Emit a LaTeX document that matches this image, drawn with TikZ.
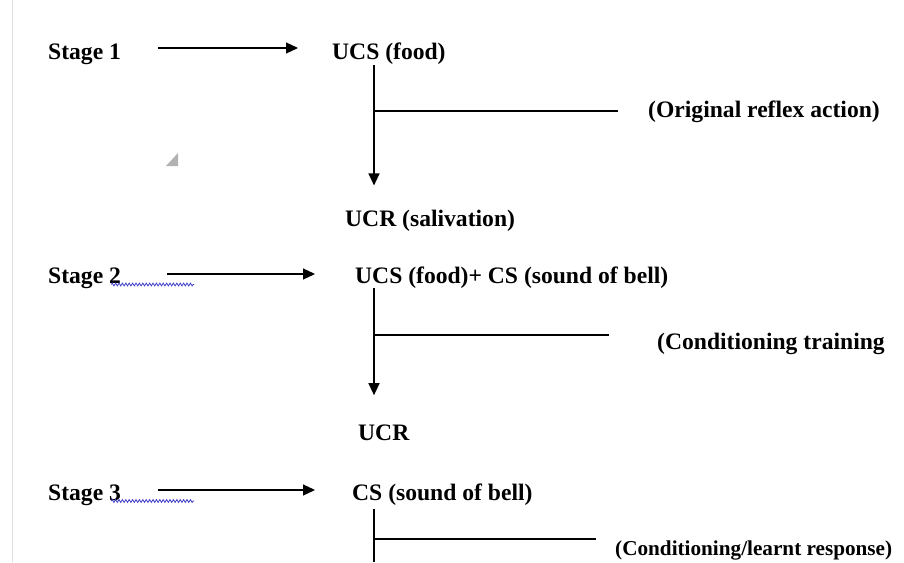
\documentclass[tikz,border=0pt]{standalone}
\usepackage{fontspec}
\setmainfont{Liberation Serif}
\usetikzlibrary{arrows.meta,calc,decorations.pathmorphing}
\begin{document}
\begin{tikzpicture}[x=1pt,y=-1pt,
  lbl/.style={font=\bfseries\fontsize{23.6}{28}\selectfont, inner sep=0pt, anchor=base west},
  smalllbl/.style={lbl, font=\bfseries\fontsize{21.2}{25}\selectfont},
  conn/.style={line width=1.2pt, -{Triangle[length=12pt,width=11pt]}},
  branch/.style={line width=1.2pt},
  plain/.style={line width=1.2pt},
  squig/.style={draw={rgb,255:red,60;green,60;blue,200}, line width=0.8pt, decorate, decoration={snake, amplitude=1.4pt, segment length=3.4pt}}]
\useasboundingbox (0,0) rectangle (904,562);
\fill[white] (0,0) rectangle (904,562);
\draw[black!12, line width=1pt] (12,0) -- (12,562);
\fill[black!30] (178,153) -- (178,166) -- (166,166) -- cycle;

% Stage 1
\node[lbl] (s1) at (48,59) {Stage 1};
\node[lbl] (ucs1) at (332,59) {UCS (food)};
\node[lbl] (ucr1) at (345,226) {UCR (salivation)};
\node[lbl] (lab1) at (648,117) {(Original reflex action)};
\coordinate (sp1) at (374,111);
\draw[conn] ($(s1.base east)+(37,-11)$) -- ($(ucs1.base west)+(-34,-11)$);
\draw[conn, shorten <=1pt, shorten >=24pt] (ucs1.south -| sp1) -- (ucr1.north -| sp1);
\draw[branch, shorten >=30pt] (sp1) -- (lab1.west |- sp1);

% Stage 2
\node[lbl] (s2) at (48,283) {Stage 2};
\node[lbl] (ucs2) at (355,283) {UCS (food)+ CS (sound of bell)};
\node[lbl] (ucr2) at (358,440) {UCR};
\node[lbl] (lab2) at (657,349) {(Conditioning training};
\coordinate (sp2) at (374,335);
\draw[squig] ($(s2.base east)+(-10,1.5)$) -- ($(s2.base east)+(73,1.5)$);
\draw[conn] ($(s2.base east)+(46,-9)$) -- ($(ucs2.base west)+(-40,-9)$);
\draw[conn, shorten >=29pt] (ucs2.south -| sp2) -- (ucr2.north -| sp2);
\draw[branch, shorten >=48pt] (sp2) -- (lab2.west |- sp2);

% Stage 3
\node[lbl] (s3) at (48,500) {Stage 3};
\node[lbl] (cs3) at (352,500) {CS (sound of bell)};
\node[smalllbl] (lab3) at (615,555) {(Conditioning/learnt response)};
\coordinate (sp3) at (374,539);
\coordinate (end3) at (374,562);
\draw[squig] ($(s3.base east)+(-10,1)$) -- ($(s3.base east)+(73,1)$);
\draw[conn] ($(s3.base east)+(37,-10)$) -- ($(cs3.base west)+(-37,-10)$);
\draw[plain, shorten <=4pt] (cs3.south -| sp3) -- (end3);
\draw[branch, shorten >=19pt] (sp3) -- (lab3.west |- sp3);
\end{tikzpicture}
\end{document}
